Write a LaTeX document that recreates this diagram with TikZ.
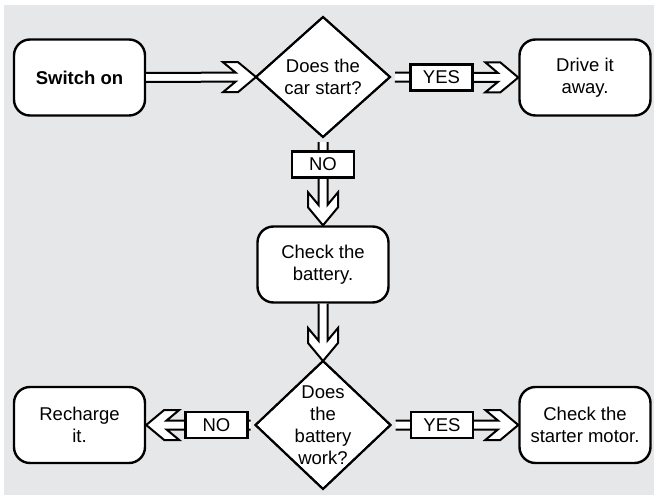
\documentclass[tikz,border=0pt]{standalone}
\usepackage{fontspec}
\setmainfont{Liberation Sans}
\usepackage{tikz}
\usetikzlibrary{calc}
\usetikzlibrary{shapes.geometric}
\definecolor{panel}{RGB}{230,231,233}
\def\shafthw{4.5pt}
\def\headhw{15pt}
\def\headlen{18pt}
\def\headback{33pt}
\def\headnotch{20.4pt}
\def\arrowinset{0pt}
\tikzset{
    flow_text/.style = {align=center, inner sep=0pt, font=\fontsize{18.5}{22}\selectfont},
    box_node/.style = {flow_text, rectangle, draw=black, fill=white, line width=2.4pt, rounded corners=16pt, minimum width=131pt, minimum height=76pt},
    ask_node/.style = {flow_text, diamond, draw=black, fill=white, line width=2pt, inner sep=-14pt, outer sep=0pt},
    ask_line/.style = {draw=black, line width=2pt, line join=miter},
    tag_node/.style = {flow_text, rectangle, draw=black, fill=white, line width=2.4pt, minimum width=62pt, minimum height=26pt},
    arrow_inset/.store in = \arrowinset,
    fat_arrow/.style = {draw=black, fill=white, line width=2pt, line join=miter,
        to path={let \p1=($(\tikztotarget)-(\tikztostart)$), \n1={atan2(\y1,\x1)} in
            ($(\tikztostart)+(\n1:\arrowinset)+(\n1+90:\shafthw)$)
            -- ($(\tikztotarget)+(\n1+180:\headnotch)+(\n1+90:\shafthw)$)
            -- ($(\tikztotarget)+(\n1+180:\headback)+(\n1+90:\headhw)$)
            -- ($(\tikztotarget)+(\n1+180:\headlen)+(\n1+90:\headhw)$)
            -- (\tikztotarget)
            -- ($(\tikztotarget)+(\n1+180:\headlen)+(\n1-90:\headhw)$)
            -- ($(\tikztotarget)+(\n1+180:\headback)+(\n1-90:\headhw)$)
            -- ($(\tikztotarget)+(\n1+180:\headnotch)+(\n1-90:\shafthw)$)
            -- ($(\tikztostart)+(\n1:\arrowinset)+(\n1-90:\shafthw)$)}}
}

\begin{document}
\begin{tikzpicture}[x=1pt, y=-1pt]

    \useasboundingbox (0,0) rectangle (654,495);
    \fill[panel] (4,5) rectangle (654,495);

    \node [box_node] (switch) at (79.5,77.5) {\textbf{Switch on}};
    \node [ask_node, minimum width=134pt, minimum height=120pt] (start) at (323,77) {Does the\\car start?};
    \node [box_node] (drive) at (585,77.5) {Drive it\\away.};
    \node [box_node] (battery) at (323,264.5) {Check the\\battery.};
    \node [ask_node, minimum width=135pt, minimum height=128pt] (works) at (323,425) {Does\\the\\battery\\work?};
    \node [box_node] (recharge) at (79.5,425) {Recharge\\it.};
    \node [box_node] (starter) at (585,425) {Check the\\starter motor.};

    % arrows into the questions
    \draw [fat_arrow] (switch.east) to (start.west);
    \draw [fat_arrow] (battery.south) to (works.north);
    \draw [ask_line] (start.north) -- (start.east) -- (start.south) -- (start.west) -- cycle;
    \draw [ask_line] (works.north) -- (works.east) -- (works.south) -- (works.west) -- cycle;

    % arrows out of the questions
    \draw [fat_arrow, arrow_inset=5pt] (start.east) to (drive.west);
    \draw [fat_arrow, arrow_inset=5pt] (start.south) to (battery.north);
    \draw [fat_arrow, arrow_inset=5pt] (works.west) to (recharge.east);
    \draw [fat_arrow, arrow_inset=5pt] (works.east) to (starter.west);

    \node [tag_node] (yes_start) at (441.5,77.5) {YES};
    \node [tag_node] (no_start) at (323,164.5) {NO};
    \node [tag_node] (no_works) at (216.5,425) {NO};
    \node [tag_node] (yes_works) at (442,425) {YES};

\end{tikzpicture}
\end{document}
